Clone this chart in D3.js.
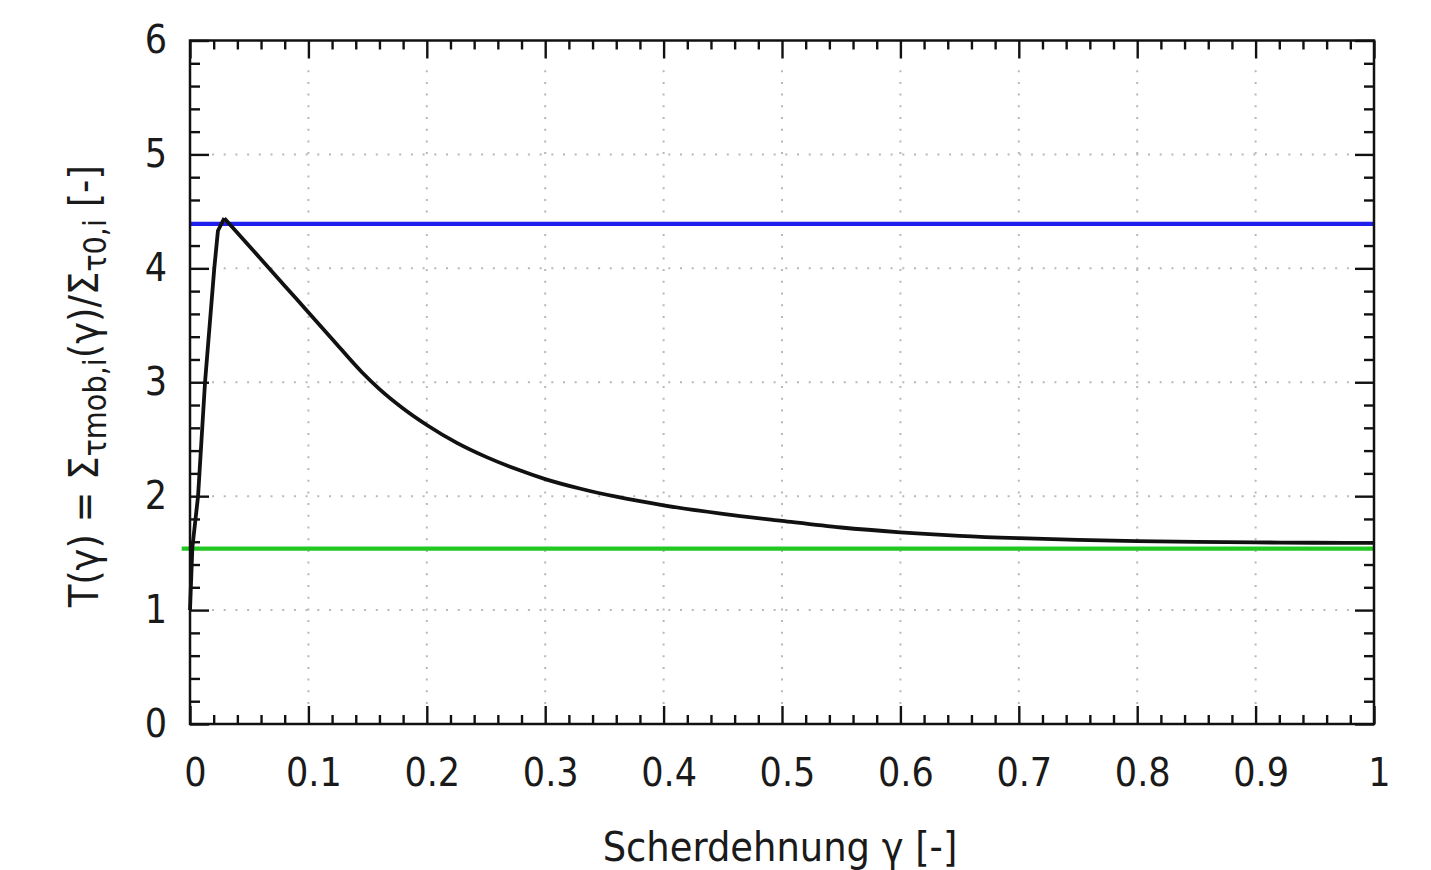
<!DOCTYPE html>
<html>
<head>
<meta charset="utf-8">
<script src="https://cdn.jsdelivr.net/npm/d3@7"></script>
<style>
  html, body { margin: 0; padding: 0; background: #fff; }
  svg { display: block; }
  text { font-family: "DejaVu Sans Condensed", "DejaVu Sans", sans-serif; fill: #1a1a1a; }
</style>
</head>
<body>
<svg id="chart" width="1431" height="870"></svg>
<script>
// ---- data ----
const xMajorTicks = [0, 0.1, 0.2, 0.3, 0.4, 0.5, 0.6, 0.7, 0.8, 0.9, 1];
const xTickLabels = ["0", "0.1", "0.2", "0.3", "0.4", "0.5", "0.6", "0.7", "0.8", "0.9", "1"];
const yMajorTicks = [0, 1, 2, 3, 4, 5, 6];
const yTickLabels = ["0", "1", "2", "3", "4", "5", "6"];

// rising branch of T(gamma)
const riseX = [0, 0.002, 0.0068, 0.0127, 0.0205, 0.0236, 0.029];
const riseY = [1.0, 1.55, 2.0, 3.0, 4.0, 4.33, 4.44];
// softening branch of T(gamma)
const decayX = [0.029, 0.06, 0.09, 0.12, 0.145, 0.16, 0.18, 0.20, 0.225, 0.25, 0.275, 0.30, 0.33, 0.36, 0.40, 0.45, 0.50, 0.55, 0.60, 0.65, 0.70, 0.75, 0.80, 0.85, 0.90, 0.95, 1.0];
const decayY = [4.44, 4.08, 3.73, 3.38, 3.09, 2.94, 2.77, 2.625, 2.47, 2.345, 2.24, 2.15, 2.065, 1.995, 1.92, 1.845, 1.783, 1.725, 1.683, 1.652, 1.631, 1.616, 1.605, 1.598, 1.594, 1.591, 1.59];

// horizontal reference levels
const blueX = [0, 1];
const blueY = [4.39, 4.39];
const greenX = [-0.007, 1];
const greenY = [1.54, 1.54];

const xLabel = "Scherdehnung γ [-]";

// ---- layout ----
const L = 190, R = 1374, T = 40.5, B = 724;
const svg = d3.select("#chart");
const x = d3.scaleLinear().domain([0, 1]).range([L, R]);
const y = d3.scaleLinear().domain([0, 6]).range([B, T]);

const xMinor = d3.range(0, 101, 2).map(v => v / 100).filter(v => !xMajorTicks.some(m => Math.abs(m - v) < 1e-9));
const yMinor = d3.range(0, 31).map(v => v / 5).filter(v => !yMajorTicks.some(m => Math.abs(m - v) < 1e-9));

// grid
const grid = svg.append("g").attr("stroke", "#b8b8b8").attr("stroke-width", 2).attr("stroke-dasharray", "2,9.7");
grid.selectAll("line.gx").data(xMajorTicks.slice(1, -1)).join("line")
  .attr("x1", d => x(d)).attr("x2", d => x(d)).attr("y1", B - 20).attr("y2", T + 20);
grid.selectAll("line.gy").data(yMajorTicks.slice(1, -1)).join("line")
  .attr("y1", d => y(d)).attr("y2", d => y(d)).attr("x1", L + 22).attr("x2", R - 22);

const fmtX = (d) => xTickLabels[xMajorTicks.indexOf(d)];
const fmtY = (d) => yTickLabels[yMajorTicks.indexOf(d)];

function styleAxis(g) {
  g.select(".domain").remove();
  g.selectAll(".tick line").attr("stroke", "#111").attr("stroke-width", 2.4);
  g.selectAll(".tick text").attr("font-size", 39).attr("fill", "#1a1a1a")
    .style("font-family", '"DejaVu Sans Condensed", "DejaVu Sans", sans-serif');
}

// bottom
svg.append("g").attr("transform", `translate(0,${B})`)
  .call(d3.axisBottom(x).tickValues(xMajorTicks).tickFormat(fmtX).tickSize(-18).tickPadding(34))
  .call(styleAxis).call(g => g.selectAll(".tick text").attr("dx", 5));
svg.append("g").attr("transform", `translate(0,${B})`)
  .call(d3.axisBottom(x).tickValues(xMinor).tickFormat("").tickSize(-9)).call(styleAxis);
// top
svg.append("g").attr("transform", `translate(0,${T})`)
  .call(d3.axisTop(x).tickValues(xMajorTicks).tickFormat("").tickSize(-18)).call(styleAxis);
svg.append("g").attr("transform", `translate(0,${T})`)
  .call(d3.axisTop(x).tickValues(xMinor).tickFormat("").tickSize(-9)).call(styleAxis);
// left
svg.append("g").attr("transform", `translate(${L},0)`)
  .call(d3.axisLeft(y).tickValues(yMajorTicks).tickFormat(fmtY).tickSize(-19).tickPadding(23))
  .call(styleAxis);
svg.append("g").attr("transform", `translate(${L},0)`)
  .call(d3.axisLeft(y).tickValues(yMinor).tickFormat("").tickSize(-10)).call(styleAxis);
// right
svg.append("g").attr("transform", `translate(${R},0)`)
  .call(d3.axisRight(y).tickValues(yMajorTicks).tickFormat("").tickSize(-19)).call(styleAxis);
svg.append("g").attr("transform", `translate(${R},0)`)
  .call(d3.axisRight(y).tickValues(yMinor).tickFormat("").tickSize(-10)).call(styleAxis);

// reference lines
const line = d3.line().x(d => x(d[0])).y(d => y(d[1]));
svg.append("path").datum(d3.zip(blueX, blueY)).attr("d", line)
  .attr("fill", "none").attr("stroke", "#1f1fee").attr("stroke-width", 4.2);
svg.append("path").datum(d3.zip(greenX, greenY)).attr("d", line)
  .attr("fill", "none").attr("stroke", "#22c822").attr("stroke-width", 4.2);

// curve
svg.append("path").datum(d3.zip(riseX, riseY)).attr("d", line)
  .attr("fill", "none").attr("stroke", "#111").attr("stroke-width", 3.8).attr("stroke-linejoin", "round");
const smooth = d3.line().x(d => x(d[0])).y(d => y(d[1])).curve(d3.curveMonotoneX);
svg.append("path").datum(d3.zip(decayX, decayY)).attr("d", smooth)
  .attr("fill", "none").attr("stroke", "#111").attr("stroke-width", 3.8).attr("stroke-linejoin", "round");

// border
svg.append("rect").attr("x", L).attr("y", T).attr("width", R - L).attr("height", B - T)
  .attr("fill", "none").attr("stroke", "#111").attr("stroke-width", 2.5);

// x title
svg.append("text").attr("x", (L + R) / 2 - 2).attr("y", 861).attr("text-anchor", "middle")
  .attr("font-size", 41).text(xLabel);

// y title (with subscripts)
const yt = svg.append("text").attr("transform", `translate(98,${(T + B) / 2 + 4}) rotate(-90)`)
  .attr("text-anchor", "middle").attr("font-size", 41);
const parts = [
  ["T(γ) = Σ", false], ["τmob,i", true], ["(γ)/Σ", false], ["τ0,i", true], [" [-]", false]
];
parts.forEach(([t, sub], i) => {
  const ts = yt.append("tspan").text(t);
  if (sub) ts.attr("font-size", 32).attr("dy", 8);
  else if (i > 0 && parts[i - 1][1]) ts.attr("dy", -8);
});
</script>
</body>
</html>
